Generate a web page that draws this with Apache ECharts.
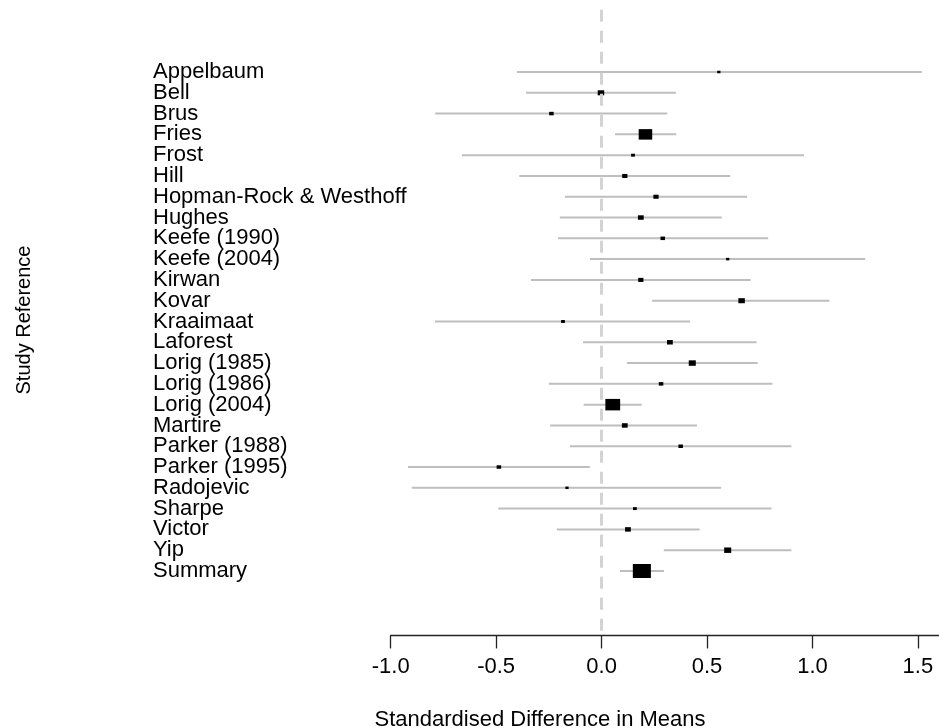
<!DOCTYPE html>
<html><head><meta charset="utf-8">
<script src="https://cdn.jsdelivr.net/npm/echarts@6/dist/echarts.min.js"></script>
<style>html,body{margin:0;padding:0;background:#fff}#c{width:939px;height:728px}</style>
</head><body><div id="c"></div>
<script>
const studies = ['Appelbaum','Bell','Brus','Fries','Frost','Hill','Hopman-Rock & Westhoff','Hughes','Keefe (1990)','Keefe (2004)','Kirwan','Kovar','Kraaimaat','Laforest','Lorig (1985)','Lorig (1986)','Lorig (2004)','Martire','Parker (1988)','Parker (1995)','Radojevic','Sharpe','Victor','Yip','Summary'];
const estimates = [0.556,-0.003,-0.238,0.208,0.149,0.110,0.258,0.186,0.290,0.598,0.186,0.664,-0.183,0.324,0.430,0.282,0.053,0.110,0.375,-0.487,-0.164,0.158,0.125,0.598,0.191];
const lower = [-0.401,-0.358,-0.789,0.064,-0.662,-0.390,-0.174,-0.198,-0.207,-0.055,-0.335,0.240,-0.790,-0.088,0.120,-0.250,-0.085,-0.244,-0.150,-0.918,-0.900,-0.490,-0.212,0.295,0.087];
const upper = [1.518,0.352,0.311,0.354,0.960,0.610,0.690,0.570,0.790,1.250,0.707,1.080,0.420,0.735,0.740,0.810,0.190,0.452,0.900,-0.056,0.567,0.806,0.465,0.900,0.296];
const weights = [0.18,0.36,0.25,0.75,0.21,0.29,0.29,0.32,0.25,0.18,0.29,0.36,0.21,0.32,0.39,0.25,0.82,0.32,0.25,0.25,0.18,0.21,0.32,0.39,1.00];
const xTicks = [-1.0,-0.5,0.0,0.5,1.0,1.5];
const xTitle = 'Standardised Difference in Means';
const yTitle = 'Study Reference';

const FONT = "'Liberation Sans', Arial, Helvetica, sans-serif";
const rows = studies.map((s, i) => [estimates[i], i + 1, lower[i], upper[i], weights[i]]);
const rowIdx = [0].concat(studies.map((s, i) => i + 1), [studies.length + 1]);

const chart = echarts.init(document.getElementById('c'), null, {renderer: 'canvas'});
chart.setOption({
  animation: false,
  backgroundColor: '#ffffff',
  grid: {left: 390.7, top: 9.63, width: 548.7, height: 625.8, containLabel: false},
  xAxis: {
    type: 'value', min: -1.0, max: 1.6, position: 'bottom',
    axisLine: {show: true, onZero: false, lineStyle: {color: '#222', width: 1.3}},
    axisTick: {show: true, length: 13, lineStyle: {color: '#222', width: 1.3}, customValues: xTicks},
    axisLabel: {show: true, customValues: xTicks, formatter: v => Number(v).toFixed(1), hideOverlap: false,
      margin: 21, fontSize: 22, fontFamily: FONT, color: '#000'},
    splitLine: {show: false}
  },
  yAxis: {
    type: 'value', inverse: true, min: -2, max: 28.1,
    axisLine: {show: false, onZero: false}, axisTick: {show: false}, splitLine: {show: false},
    axisLabel: {show: true, customValues: rowIdx, formatter: v => studies[Math.round(v) - 1] || '',
      hideOverlap: false,
      align: 'left', margin: 237.7, fontSize: 22, fontFamily: FONT, color: '#000'}
  },
  graphic: [
    {type: 'text', x: 540, y: 720, style: {text: xTitle, fontSize: 22, fontFamily: FONT, fill: '#000', align: 'center', verticalAlign: 'middle'}},
    {type: 'text', x: 24, y: 320, rotation: Math.PI / 2, style: {text: yTitle, fontSize: 20, fontFamily: FONT, fill: '#000', align: 'center', verticalAlign: 'middle'}}
  ],
  series: [
    {
      type: 'line', data: [], z: 1, silent: true,
      markLine: {silent: true, symbol: 'none', label: {show: false},
        lineStyle: {type: [12, 9], color: '#d3d3d3', width: 3},
        data: [{xAxis: 0}]}
    },
    {
      type: 'custom', z: 2, silent: true, clip: false,
      encode: {x: 0, y: 1},
      data: rows,
      renderItem: function (params, api) {
        const y = api.value(1);
        const p0 = api.coord([api.value(2), y]);
        const p1 = api.coord([api.value(3), y]);
        const pc = api.coord([api.value(0), y]);
        const h = 14 * api.value(4);
        const w = 1.29 * h;
        return {type: 'group', children: [
          {type: 'line', shape: {x1: p0[0], y1: p0[1], x2: p1[0], y2: p1[1]}, style: {stroke: '#bebebe', lineWidth: 2}},
          {type: 'rect', shape: {x: pc[0] - w / 2, y: pc[1] - h / 2, width: w, height: h}, style: {fill: '#000'}}
        ]};
      }
    }
  ]
});
</script></body></html>
